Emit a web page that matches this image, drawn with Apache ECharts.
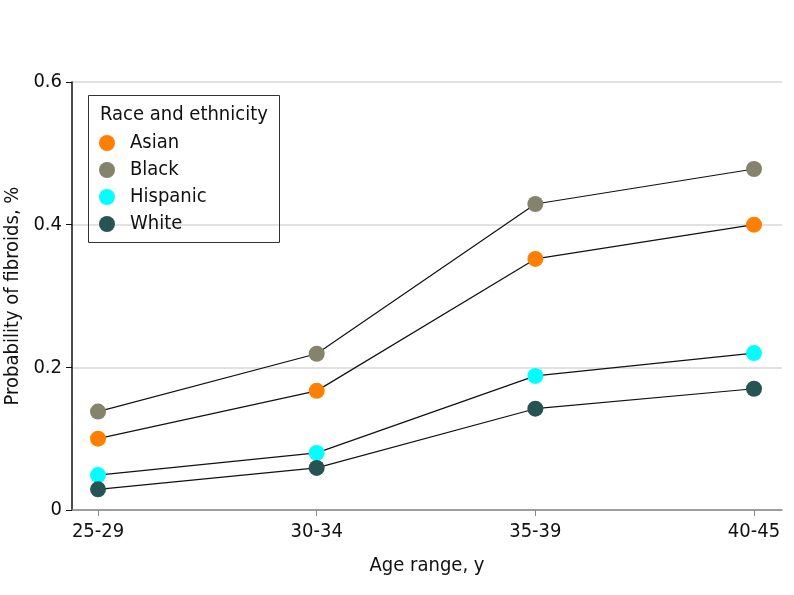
<!DOCTYPE html>
<html><head><meta charset="utf-8">
<script src="https://cdn.jsdelivr.net/npm/echarts@6/dist/echarts.min.js"></script>
<style>html,body{margin:0;padding:0;background:#fff}#c{width:794px;height:595px}</style>
</head><body><div id="c"></div>
<script>
const categories = ['25-29', '30-34', '35-39', '40-45'];
const asian = [0.100, 0.167, 0.352, 0.400];
const black = [0.138, 0.219, 0.429, 0.478];
const hispanic = [0.049, 0.080, 0.188, 0.220];
const white = [0.029, 0.059, 0.142, 0.170];
const yTicks = [0, 0.2, 0.4, 0.6];
const seriesNames = ['Asian', 'Black', 'Hispanic', 'White'];
const colors = ['#FF7F00', '#85836B', '#00FFFF', '#275452'];
const legendTitle = 'Race and ethnicity';

const FONT = '"Liberation Sans Narrow", "DejaVu Sans Condensed", sans-serif';
const values = [asian, black, hispanic, white];

const chart = echarts.init(document.getElementById('c'), null, {renderer: 'canvas'});
chart.setOption({
  animation: false,
  textStyle: {fontFamily: FONT},
  grid: {left: 72, right: 12, top: 82, bottom: 85, containLabel: false, outerBoundsMode: 'none'},
  xAxis: {
    type: 'value', min: -0.119, max: 3.128,
    name: 'Age range, y', nameLocation: 'middle', nameGap: 46,
    nameTextStyle: {fontFamily: FONT, fontSize: 20, color: '#111'},
    axisLine: {show: true, onZero: false, lineStyle: {color: '#888', width: 1.5}},
    axisTick: {show: true, length: 6, customValues: [0, 1, 2, 3], lineStyle: {color: '#888'}},
    axisLabel: {customValues: [0, 1, 2, 3], formatter: v => categories[Math.round(v)],
      fontFamily: FONT, fontSize: 20, color: '#111', margin: 12},
    splitLine: {show: false}
  },
  yAxis: {
    type: 'value', min: 0, max: 0.6, interval: 0.2,
    name: 'Probability of fibroids, %', nameLocation: 'middle', nameGap: 46,
    nameTextStyle: {fontFamily: FONT, fontSize: 20, color: '#111'},
    axisLine: {show: true, onZero: false, lineStyle: {color: '#111', width: 1.5}},
    axisTick: {show: true, length: 6, lineStyle: {color: '#111'}},
    axisLabel: {fontFamily: FONT, fontSize: 20, color: '#111', margin: 10,
      formatter: v => String(Math.round(v * 10) / 10)},
    splitLine: {show: true, lineStyle: {color: '#d9d9d9', width: 1.5}}
  },
  legend: {
    orient: 'vertical', left: 99, top: 133, padding: 0,
    itemWidth: 16, itemHeight: 16, itemGap: 7, icon: 'circle',
    data: seriesNames,
    textStyle: {fontFamily: FONT, fontSize: 20, color: '#111', padding: [0, 0, 0, 10]}
  },
  graphic: [
    {type: 'rect', left: 86, top: 93, shape: {width: 191, height: 147},
     style: {fill: 'none', stroke: '#333', lineWidth: 1}, z: 10},
    {type: 'text', left: 100, top: 105, style: {text: legendTitle, font: '20px ' + FONT, fill: '#111'}, z: 10}
  ],
  series: seriesNames.map((n, i) => ({
    name: n, type: 'line',
    data: values[i].map((v, j) => [j, v]),
    symbol: 'circle', symbolSize: 16,
    itemStyle: {color: colors[i], borderWidth: 0},
    lineStyle: {color: '#111', width: 1.2},
    z: 3
  }))
});
</script></body></html>
